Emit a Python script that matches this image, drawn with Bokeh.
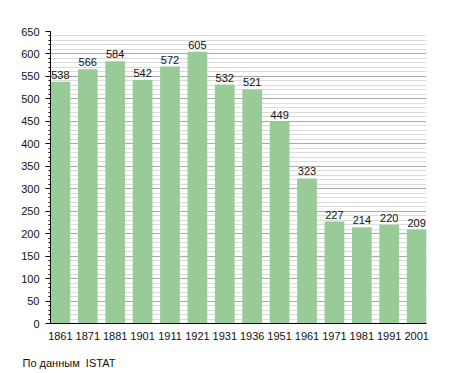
from bokeh.plotting import figure
from bokeh.models import ColumnDataSource, FactorRange, SingleIntervalTicker, Title, Range1d
from bokeh.core.properties import value
from bokeh.embed import file_html
from bokeh.resources import INLINE

years = ["1861", "1871", "1881", "1901", "1911", "1921", "1931", "1936",
         "1951", "1961", "1971", "1981", "1991", "2001"]
population = [538, 566, 584, 542, 572, 605, 532, 521, 449, 323, 227, 214, 220, 209]
source_note = "По данным\u00a0 ISTAT"

FONT = "Liberation Sans"

src = ColumnDataSource(dict(x=years, y=population, label=[str(v) for v in population]))

p = figure(width=450, height=373, output_backend="svg", toolbar_location=None,
           x_range=FactorRange(factors=years, range_padding=-0.14, range_padding_units="absolute"),
           y_range=Range1d(0, 650),
           min_border_left=50, min_border_right=24, min_border_top=31, min_border_bottom=50)
p.outline_line_color = None
p.background_fill_color = "white"
p.border_fill_color = "white"

p.vbar(x="x", top="y", width=0.72, source=src, fill_color="#98cb98", line_color=None)
p.text(x="x", y="y", text="label", source=src, text_align="center", text_baseline="bottom",
       y_offset=-3, text_font=value(FONT), text_font_size="11px", text_color="#111111")

p.yaxis.ticker = SingleIntervalTicker(interval=50, num_minor_ticks=5)
p.yaxis.major_tick_out = 5
p.yaxis.major_tick_in = 0
p.yaxis.minor_tick_out = 2
p.yaxis.minor_tick_in = 0
p.yaxis.axis_line_color = "black"
p.yaxis.major_tick_line_color = "black"
p.yaxis.minor_tick_line_color = "black"
p.yaxis.major_label_text_font = FONT
p.yaxis.major_label_text_font_size = "11px"
p.yaxis.major_label_text_color = "#111111"
p.yaxis.major_label_standoff = 6

p.xaxis.major_tick_line_color = None
p.xaxis.minor_tick_line_color = None
p.xaxis.axis_line_color = "black"
p.xaxis.major_label_text_font = FONT
p.xaxis.major_label_text_font_size = "11px"
p.xaxis.major_label_text_color = "#111111"
p.xaxis.major_label_standoff = 2
p.xaxis.axis_label = "\u00a0"
p.xaxis.axis_label_standoff = 0
p.xaxis.axis_label_text_font_size = "8px"

p.xgrid.grid_line_color = None
p.ygrid.grid_line_color = "#a8a8a8"
p.ygrid.minor_grid_line_color = "#dcdcdc"
p.ygrid.level = "underlay"

note = Title(text=source_note, align="left", offset=-28, standoff=0,
             text_font=FONT, text_font_size="11px", text_font_style="normal",
             text_color="#111111")
p.add_layout(note, "below")

open("out.html", "w").write(file_html(p, INLINE))
